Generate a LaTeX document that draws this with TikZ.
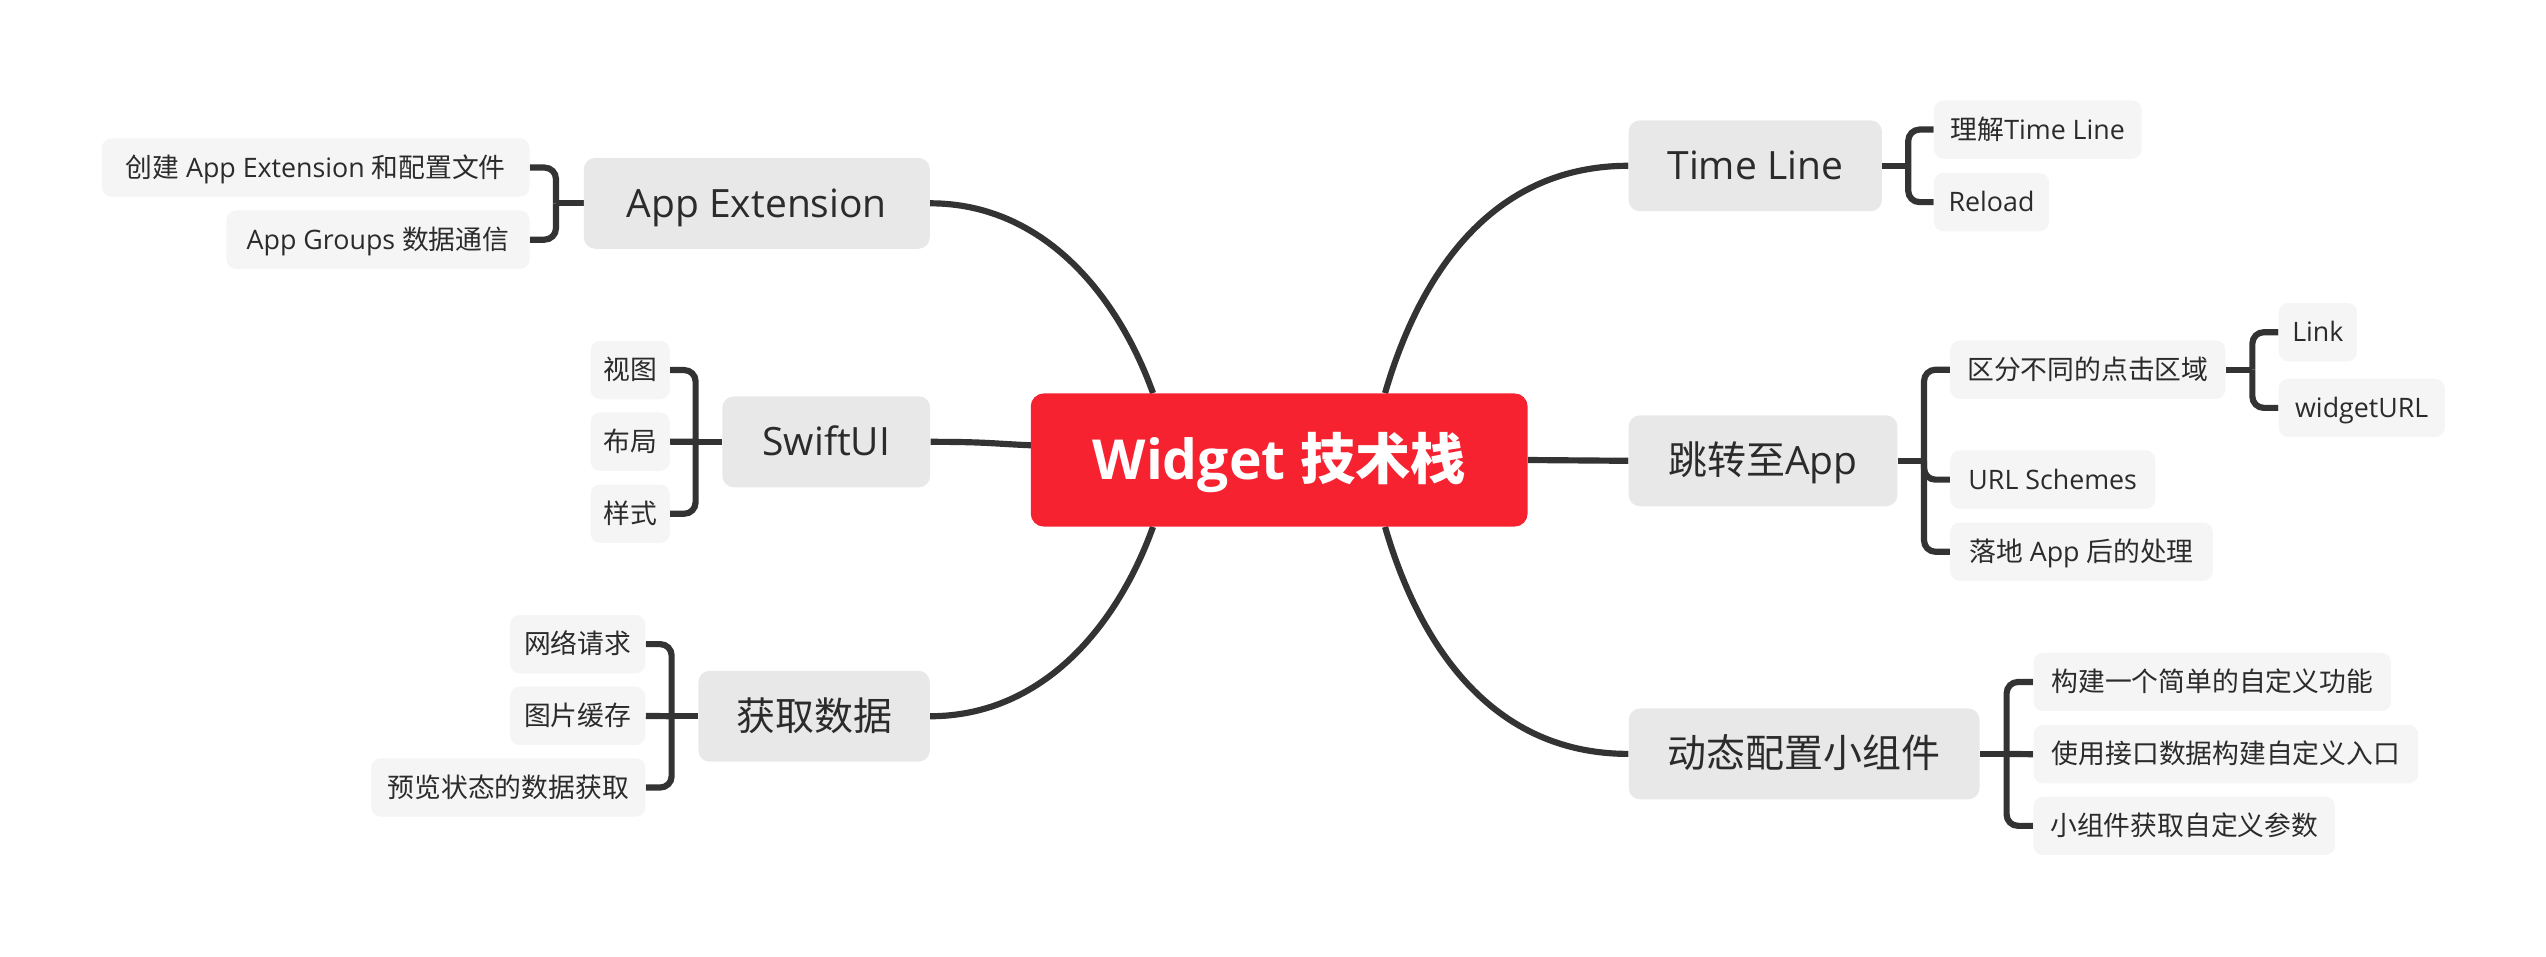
\documentclass[tikz,border=0pt]{standalone}
\usepackage{fontspec}
\setmainfont{Open Sans}
\newfontfamily\cjk{Noto Sans CJK SC}
\usetikzlibrary{calc}
\pgfdeclarelayer{background}
\pgfsetlayers{background,main}
\definecolor{cred}{RGB}{247,34,48}
\definecolor{cmain}{HTML}{E8E8E8}
\definecolor{cleaf}{HTML}{F5F5F5}
\definecolor{ctext}{HTML}{2B2B2B}
\definecolor{cline}{HTML}{333333}
\begin{document}
\begin{tikzpicture}[x=1pt,y=-1pt,
  central/.style={fill=cred,rounded corners=8,text=white,inner sep=0,minimum width=306,minimum height=82,text height=29.2pt,text depth=4.8pt,font=\fontsize{34}{40}\selectfont\bfseries},
  mainbox/.style={fill=cmain,rounded corners=7,text=ctext,inner xsep=2,inner ysep=0,minimum height=56,text height=20.6pt,text depth=3.4pt,font=\fontsize{24}{28}\selectfont},
  leaf/.style={fill=cleaf,rounded corners=6,text=ctext,inner xsep=2,inner ysep=0,minimum height=36,text height=14.2pt,text depth=2.3pt,font=\fontsize{16.5}{20}\selectfont},
  conn/.style={draw=cline,line width=3.8},
  brk/.style={draw=cline,line width=3.8,rounded corners=7}]
\useasboundingbox (0,0) rectangle (1568,589);
% central
\node[central] (c) at (787.8,283.3) {Widget {\cjk\bfseries 技术栈}};
% main nodes
\node[mainbox,minimum width=213] (ae) at (466.1,125.2) {App Extension};
\node[mainbox,minimum width=128] (sw) at (508.9,272.1) {SwiftUI};
\node[mainbox,minimum width=142.5] (gd) at (501.4,441.1) {\cjk 获取数据};
\node[mainbox,minimum width=156] (tl) at (1081,102.1) {Time Line};
\node[mainbox,minimum width=165.5] (jz) at (1085.8,283.8) {{\cjk 跳转至}App};
\node[mainbox,minimum width=216] (dt) at (1111.1,464.3) {\cjk 动态配置小组件};
% leaves left
\node[leaf,minimum width=263.4] (l1) at (194.4,103.2) {{\cjk 创建} App Extension {\cjk 和配置文件}};
\node[leaf,minimum width=186.7] (l2) at (232.8,147.6) {App Groups {\cjk 数据通信}};
\node[leaf,minimum width=48.8] (s1) at (388.1,227.9) {\cjk 视图};
\node[leaf,minimum width=48.8] (s2) at (388.1,272) {\cjk 布局};
\node[leaf,minimum width=48.8] (s3) at (388.1,316.4) {\cjk 样式};
\node[leaf,minimum width=83.4] (g1) at (355.8,396.7) {\cjk 网络请求};
\node[leaf,minimum width=83.4] (g2) at (355.8,440.9) {\cjk 图片缓存};
\node[leaf,minimum width=169] (g3) at (313,485) {\cjk 预览状态的数据获取};
% leaves right
\node[leaf,minimum width=128] (t1) at (1255,79.8) {{\cjk 理解}Time Line};
\node[leaf,minimum width=71] (t2) at (1226.5,124.5) {Reload};
\node[leaf,minimum width=169.5] (j1) at (1285.8,227.7) {\cjk 区分不同的点击区域};
\node[leaf,minimum width=48.3] (j11) at (1427.5,204.6) {Link};
\node[leaf,minimum width=102.4] (j12) at (1454.5,251.2) {widgetURL};
\node[leaf,minimum width=126.3] (j2) at (1264.2,295.4) {URL Schemes};
\node[leaf,minimum width=161.8] (j3) at (1281.9,339.8) {{\cjk 落地} App {\cjk 后的处理}};
\node[leaf,minimum width=220.3] (d1) at (1362.5,420) {\cjk 构建一个简单的自定义功能};
\node[leaf,minimum width=237.1] (d2) at (1370.9,464.5) {\cjk 使用接口数据构建自定义入口};
\node[leaf,minimum width=185.8] (d3) at (1345.2,508.6) {\cjk 小组件获取自定义参数};
\begin{pgfonlayer}{background}
% main connectors
\draw[conn] (ae.east) .. controls +(70,0) and +(-21.6,-60) .. ($(c.north west)+(75.5,0)$);
\draw[conn] (gd.east) .. controls +(70,0) and +(-21.6,60) .. ($(c.south west)+(75.5,0)$);
\draw[conn] (sw.east) .. controls +(35,0) and +(-25,-1) .. ($(c.west)+(2,-9)$);
\draw[conn] ($(c.north east)+(-88,0)$) .. controls +(16,-55) and +(-95,0) .. (tl.west);
\draw[conn] ($(c.south east)+(-88,0)$) .. controls +(16,55) and +(-95,0) .. (dt.west);
\draw[conn] (c.east) -- (jz.west);
% brackets
\coordinate (aeJ) at ($(ae.west)+(-17,0)$);
\draw[conn] (ae.west) -- (aeJ);
\draw[brk] (aeJ) |- (l1.east);
\draw[brk] (aeJ) |- (l2.east);
\coordinate (swJ) at ($(sw.west)+(-16.3,0)$);
\draw[conn] (sw.west) -- (swJ);
\draw[brk] (swJ) |- (s1.east);
\draw[brk] (swJ) -- (s2.east);
\draw[brk] (swJ) |- (s3.east);
\coordinate (gdJ) at ($(gd.west)+(-16.3,0)$);
\draw[conn] (gd.west) -- (gdJ);
\draw[brk] (gdJ) |- (g1.east);
\draw[brk] (gdJ) -- (g2.east);
\draw[brk] (gdJ) |- (g3.east);
\coordinate (tlJ) at ($(tl.east)+(16,0)$);
\draw[conn] (tl.east) -- (tlJ);
\draw[brk] (tlJ) |- (t1.west);
\draw[brk] (tlJ) |- (t2.west);
\coordinate (jzJ) at ($(jz.east)+(16.2,0)$);
\draw[conn] (jz.east) -- (jzJ);
\draw[brk] (jzJ) |- (j1.west);
\draw[brk] (jzJ) |- (j2.west);
\draw[brk] (jzJ) |- (j3.west);
\coordinate (j1J) at ($(j1.east)+(16.4,0)$);
\draw[conn] (j1.east) -- (j1J);
\draw[brk] (j1J) |- (j11.west);
\draw[brk] (j1J) |- (j12.west);
\coordinate (dtJ) at ($(dt.east)+(16.5,0)$);
\draw[conn] (dt.east) -- (dtJ);
\draw[brk] (dtJ) |- (d1.west);
\draw[brk] (dtJ) -- (d2.west);
\draw[brk] (dtJ) |- (d3.west);
\end{pgfonlayer}
\end{tikzpicture}
\end{document}
